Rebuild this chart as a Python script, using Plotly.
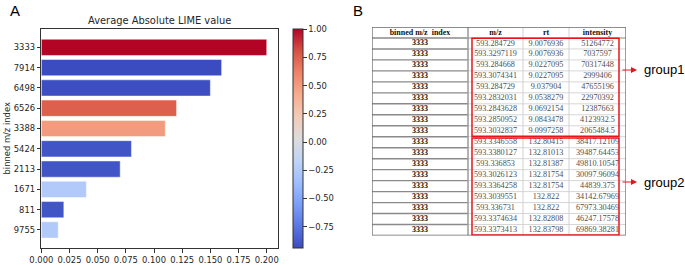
import plotly.graph_objects as go

W, H = 685, 265

# ---- Panel A data ----
mz_index = ["3333", "7914", "6498", "6526", "3388", "5424", "2113", "1671", "811", "9755"]
avg_abs_lime = [0.200, 0.160, 0.150, 0.120, 0.110, 0.080, 0.070, 0.040, 0.020, 0.015]
signed_lime = [1.0, -0.94, -0.93, 0.75, 0.50, -0.90, -0.90, -0.25, -0.90, -0.25]
x_ticks = [0.0, 0.025, 0.05, 0.075, 0.1, 0.125, 0.15, 0.175, 0.2]
cbar_ticks = [-0.75, -0.5, -0.25, 0.0, 0.25, 0.5, 0.75, 1.0]

# ---- Panel B data ----
tbl_header = ["binned m/z  index", "m/z", "rt", "intensity"]
tbl_index = ["3333"] * 18
tbl_mz = [593.284729, 593.3297119, 593.284668, 593.3074341, 593.284729, 593.2832031,
          593.2843628, 593.2850952, 593.3032837, 593.3346558, 593.3380127, 593.336853,
          593.3026123, 593.3364258, 593.3039551, 593.336731, 593.3374634, 593.3373413]
tbl_rt = [9.0076936, 9.0076936, 9.0227095, 9.0227095, 9.037904, 9.0538279, 9.0692154,
          9.0843478, 9.0997258, 132.80415, 132.81013, 132.81387, 132.81754, 132.81754,
          132.822, 132.822, 132.82808, 132.83798]
tbl_intensity = [51264772, 7037597, 70317448, 2999406, 47655196, 22970392, 12387663,
                 4123932.5, 2065484.5, 38417.12109, 39487.64453, 49810.10547, 30097.96094,
                 44839.375, 34142.67969, 67973.30469, 46247.17578, 69869.38281]
group_labels = ["group1", "group2"]
group_rows = [(0, 9), (9, 18)]   # data-row index ranges of each group


def px(x):
    return x / W


def py(y):
    return 1 - y / H


coolwarm = [
    [0.0, "#3b4cc0"], [0.1, "#5977e3"], [0.2, "#7b9ff9"], [0.3, "#9ebeff"],
    [0.4, "#c0d4f5"], [0.5, "#dddcdc"], [0.6, "#f2cbb7"], [0.7, "#f7ac8e"],
    [0.8, "#ee8468"], [0.9, "#d65244"], [1.0, "#b40426"],
]

MPL = "DejaVu Sans"
SERIF = "Liberation Serif"
fig = go.Figure()

ax_left, ax_right, ax_top, ax_bot = 41.3, 278, 29.3, 248
cb_left = 293

fig.add_trace(go.Bar(
    x=avg_abs_lime, y=mz_index, orientation="h", width=0.8,
    marker=dict(
        color=signed_lime, colorscale=coolwarm, cmin=-0.94, cmax=1.0,
        line=dict(width=0.6, color="rgba(255,255,255,0.8)"),
        showscale=True,
        colorbar=dict(
            x=px(cb_left), xanchor="left", xpad=0,
            y=py((ax_top + ax_bot) / 2), yanchor="middle", ypad=0,
            thicknessmode="pixels", thickness=10,
            lenmode="pixels", len=ax_bot - ax_top,
            outlinecolor="#333", outlinewidth=1,
            ticks="outside", ticklen=3.5, tickcolor="#333",
            tickvals=cbar_ticks, tickformat=".2f",
            tickfont=dict(family=MPL, size=8.4, color="#262626"),
        ),
    ),
    showlegend=False, xaxis="x", yaxis="y",
))

# ---- Table drawn on its own axes: columns in pixel-width units, rows as units ----
col_w = [96, 55, 46, 57]
col_edges = [0]
for w in col_w:
    col_edges.append(col_edges[-1] + w)
col_mid = [(col_edges[i] + col_edges[i + 1]) / 2 for i in range(4)]
n_rows = len(tbl_index) + 1
tbl_left, tbl_right, tbl_top, tbl_bot = 372, 626, 27, 235.5

columns = [
    [f"<b>{v}</b>" for v in tbl_index],
    [str(v) for v in tbl_mz],
    [str(v) for v in tbl_rt],
    [str(v) for v in tbl_intensity],
]
col_colors = ["#111111", "#505050", "#505050", "#505050"]
col_sizes = [8.0, 8.2, 8.2, 8.2]

fig.add_trace(go.Scatter(
    x=col_mid, y=[0.5] * 4, mode="text",
    text=[f"<b>{h}</b>" for h in tbl_header],
    textfont=dict(family=SERIF, size=8.0, color="#111"),
    xaxis="x2", yaxis="y2", showlegend=False, hoverinfo="skip",
))
for ci, vals in enumerate(columns):
    fig.add_trace(go.Scatter(
        x=[col_mid[ci]] * len(vals), y=[i + 1.5 for i in range(len(vals))],
        mode="text", text=vals,
        textfont=dict(family=SERIF, size=col_sizes[ci], color=col_colors[ci]),
        xaxis="x2", yaxis="y2", showlegend=False, hoverinfo="skip",
    ))

fig.update_layout(
    width=W, height=H,
    margin=dict(l=0, r=0, t=0, b=0, pad=0, autoexpand=False),
    paper_bgcolor="white", plot_bgcolor="white",
    bargap=0.2,
    xaxis=dict(
        domain=[px(ax_left), px(ax_right)],
        range=[0, 0.21], tickvals=x_ticks, tickformat=".3f",
        showline=True, mirror=True, linecolor="#333", linewidth=1,
        ticks="outside", ticklen=3.5, tickcolor="#333",
        showgrid=False, zeroline=False, anchor="y", automargin=False,
        tickfont=dict(family=MPL, size=8.4, color="#262626"),
    ),
    yaxis=dict(
        domain=[py(ax_bot), py(ax_top)],
        type="category", range=[9.89, -0.89],
        showline=True, mirror=True, linecolor="#333", linewidth=1,
        ticks="outside", ticklen=3.5, tickcolor="#333",
        showgrid=False, zeroline=False, anchor="x", automargin=False,
        tickfont=dict(family=MPL, size=8.4, color="#262626"),
    ),
    xaxis2=dict(
        domain=[px(tbl_left), px(tbl_right)], range=[0, col_edges[-1]],
        visible=False, anchor="y2", fixedrange=True, automargin=False,
    ),
    yaxis2=dict(
        domain=[py(tbl_bot), py(tbl_top)], range=[n_rows, 0],
        visible=False, anchor="x2", fixedrange=True, automargin=False,
    ),
)

shapes = []
for r in range(1, n_rows):
    shapes.append(dict(type="line", xref="x2", yref="y2", x0=0, x1=col_edges[1], y0=r, y1=r,
                       line=dict(color="#8a8a8a", width=1.4)))
    shapes.append(dict(type="line", xref="x2", yref="y2", x0=col_edges[1], x1=col_edges[-1],
                       y0=r, y1=r, line=dict(color="#d6d6d6" if r > 1 else "#8a8a8a", width=1)))
for ce in col_edges[1:-1]:
    shapes.append(dict(type="line", xref="x2", yref="y2", x0=ce, x1=ce, y0=0, y1=n_rows,
                       line=dict(color="#9a9a9a" if ce == col_edges[1] else "#d0d0d0",
                                 width=1.5 if ce == col_edges[1] else 1)))
shapes.append(dict(type="rect", xref="x2", yref="y2", x0=0, x1=col_edges[-1], y0=0, y1=n_rows,
                   line=dict(color="#6a6a6a", width=1.3)))
for (r0, r1) in group_rows:
    shapes.append(dict(type="rect", xref="x2", yref="y2", x0=100, x1=247,
                       y0=r0 + 1 + (0.12 if r0 > 0 else 0.02), y1=r1 + 1 - 0.05,
                       line=dict(color="#e8141c", width=1.5)))

P = dict(xref="paper", yref="paper")
annos = [
    dict(**P, x=px(8), y=py(11), text="A", showarrow=False, xanchor="left", yanchor="middle",
         font=dict(family="Liberation Sans", size=15, color="black")),
    dict(**P, x=px(351), y=py(11), text="B", showarrow=False, xanchor="left", yanchor="middle",
         font=dict(family="Liberation Sans", size=15, color="black")),
    dict(**P, x=px((ax_left + ax_right) / 2), y=py(20.5), text="Average Absolute LIME value",
         showarrow=False, xanchor="center", yanchor="middle",
         font=dict(family=MPL, size=9.9, color="#262626")),
    dict(**P, x=px(6.5), y=py(139), text="binned m/z index", textangle=-90, showarrow=False,
         xanchor="center", yanchor="middle",
         font=dict(family=MPL, size=8.4, color="#262626")),
]

for lab, yy in zip(group_labels, [70, 182]):
    annos.append(dict(**P, x=px(637), y=py(yy), ax=-16, ay=0, axref="pixel", ayref="pixel",
                      text="", showarrow=True,
                      arrowhead=2, arrowsize=1, arrowwidth=1.2, arrowcolor="#e8141c"))
    annos.append(dict(**P, x=px(642), y=py(yy), text=lab, showarrow=False, xanchor="left",
                      yanchor="middle", font=dict(family="Liberation Sans", size=13, color="black")))

fig.update_layout(annotations=annos, shapes=shapes)
fig.write_html("out.html", config={"displayModeBar": False},
               post_script="document.body.style.margin='0';document.body.style.overflow='hidden';")
